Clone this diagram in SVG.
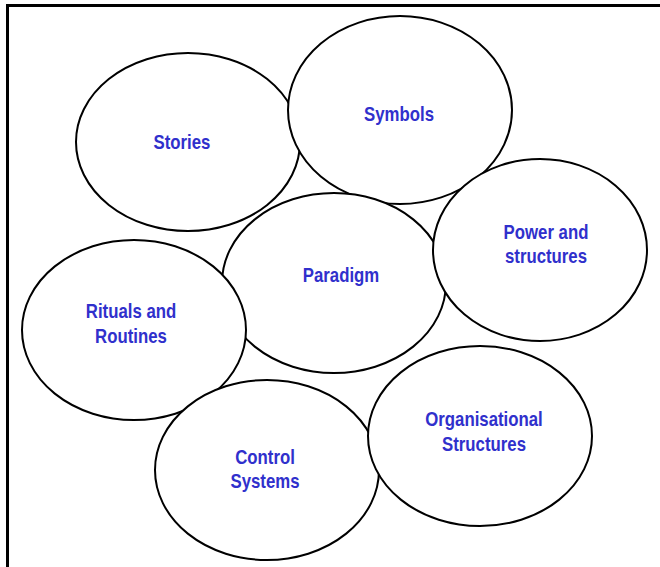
<svg xmlns="http://www.w3.org/2000/svg" width="660" height="567" viewBox="0 0 660 567">
<style>
.e{fill:#fff;stroke:#000;stroke-width:2}
.t{font-family:"Liberation Sans",Arial,sans-serif;font-weight:bold;font-size:20px;fill:#3030cc;text-anchor:middle}
</style>
<rect x="0" y="0" width="660" height="567" fill="#fff"/>
<rect x="7.5" y="5.5" width="700" height="620" fill="none" stroke="#000" stroke-width="3"/>
<g id="connectors"></g>
<g id="stories">
<ellipse class="e" cx="188" cy="142" rx="112" ry="89"/>
<text class="t" transform="translate(182,149) scale(0.84,1)">Stories</text>
</g>
<g id="symbols">
<ellipse class="e" cx="400" cy="110" rx="112" ry="94"/>
<text class="t" transform="translate(399,121) scale(0.84,1)">Symbols</text>
</g>
<g id="paradigm">
<ellipse class="e" cx="334" cy="283" rx="112" ry="90"/>
<text class="t" transform="translate(341,282) scale(0.84,1)">Paradigm</text>
</g>
<g id="power">
<ellipse class="e" cx="540" cy="250" rx="107" ry="91"/>
<text class="t" transform="translate(546,239) scale(0.84,1)">Power and</text>
<text class="t" transform="translate(546,263) scale(0.84,1)">structures</text>
</g>
<g id="rituals">
<ellipse class="e" cx="134" cy="330" rx="112" ry="90"/>
<text class="t" transform="translate(131,318) scale(0.84,1)">Rituals and</text>
<text class="t" transform="translate(131,343) scale(0.84,1)">Routines</text>
</g>
<g id="control">
<ellipse class="e" cx="267" cy="470" rx="112" ry="90"/>
<text class="t" transform="translate(265,464) scale(0.84,1)">Control</text>
<text class="t" transform="translate(265,488) scale(0.84,1)">Systems</text>
</g>
<g id="organisational">
<ellipse class="e" cx="480" cy="436" rx="112" ry="90"/>
<text class="t" transform="translate(484,426) scale(0.84,1)">Organisational</text>
<text class="t" transform="translate(484,451) scale(0.84,1)">Structures</text>
</g>
</svg>
